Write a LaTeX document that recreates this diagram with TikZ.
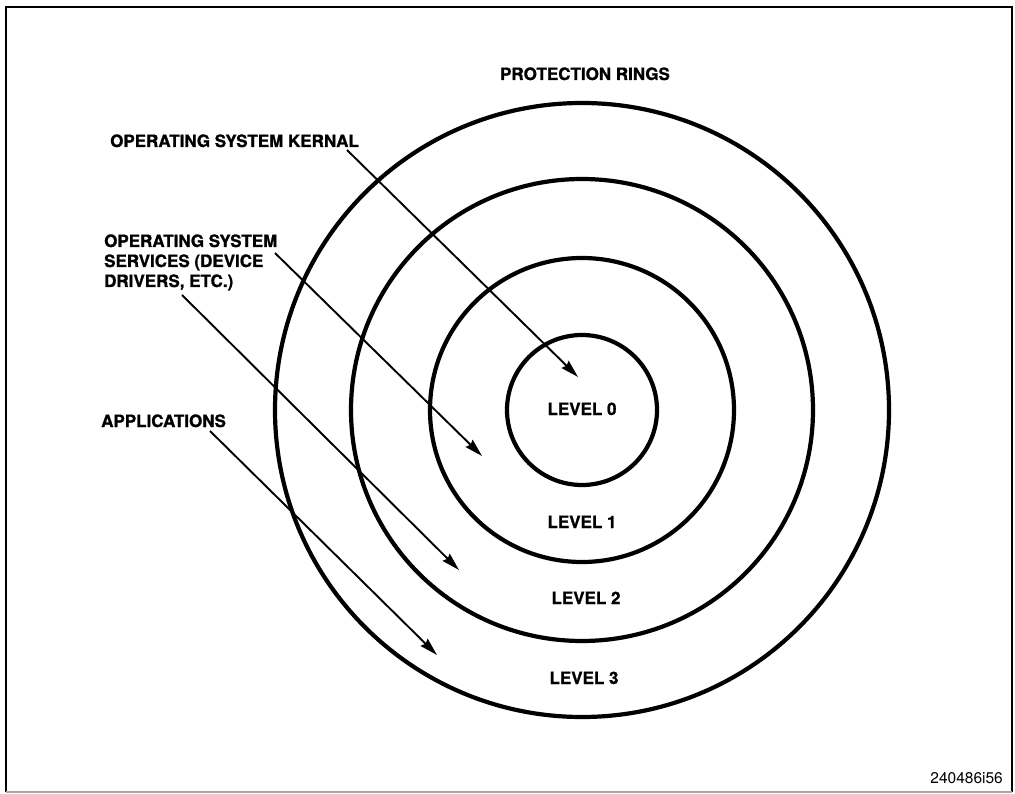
\documentclass[tikz,border=0pt]{standalone}
\usepackage{fontspec}
\setmainfont{TeX Gyre Heros}
\newfontfamily\heavyfont{texgyreheros-bold.otf}[FakeBold=1.2]
\usetikzlibrary{arrows.meta}
\begin{document}
\begin{tikzpicture}[x=1pt,y=-1pt,
  ring/.style={line width=4.2pt},
  pointer/.style={line width=1.9pt,-{Stealth[length=18pt,width=10pt,inset=2pt]}},
  lbl/.style={inner sep=0pt,font=\fontsize{17}{20}\selectfont\heavyfont},
  lvl/.style={lbl,anchor=base},
  frameline/.style={line width=2.8pt}]
  \useasboundingbox (0,0) rectangle (1015,794);

  % outer frame
  \draw[frameline] (6,792) -- (6,7) -- (1012,7) -- (1012,792);
  \draw[line width=2pt,black!35] (6,792) -- (1012,792);

  % concentric protection rings
  \coordinate (ctr) at (582,410);
  \draw[ring] (ctr) circle[radius=75];
  \draw[ring] (ctr) circle[radius=152];
  \draw[ring] (ctr) circle[radius=231];
  \draw[ring] (ctr) circle[radius=307];

  % titles and level names
  \node[lvl] (title) at (585,80) {PROTECTION RINGS};
  \node[lvl] (l0) at (582,415) {LEVEL 0};
  \node[lvl] (l1) at (582,528) {LEVEL 1};
  \node[lvl] (l2) at (586,604) {LEVEL 2};
  \node[lvl] (l3) at (584,684) {LEVEL 3};

  % callout labels
  \node[lbl,anchor=base west] (kern) at (110,147) {OPERATING SYSTEM KERNAL};
  \node[lbl,anchor=base west,align=left] (serv) at (104,287)
    {OPERATING SYSTEM\\SERVICES (DEVICE\\DRIVERS, ETC.)};
  \node[lbl,anchor=base west] (apps) at (101,427) {APPLICATIONS};

  % figure number
  \node[inner sep=0pt,anchor=base east,font=\fontsize{15.5}{18}\selectfont] (fig) at (1003,783) {240486i56};

  % callout arrows
  \coordinate (k0) at (347,150);  \coordinate (k1) at (578,377);
  \coordinate (s0) at (275,253);  \coordinate (s1) at (482,456);
  \coordinate (d0) at (182,295);  \coordinate (d1) at (459,570);
  \coordinate (a0) at (210,431);  \coordinate (a1) at (437,655);
  \draw[pointer] (k0) -- (k1);
  \draw[pointer] (s0) -- (s1);
  \draw[pointer] (d0) -- (d1);
  \draw[pointer] (a0) -- (a1);
\end{tikzpicture}
\end{document}
